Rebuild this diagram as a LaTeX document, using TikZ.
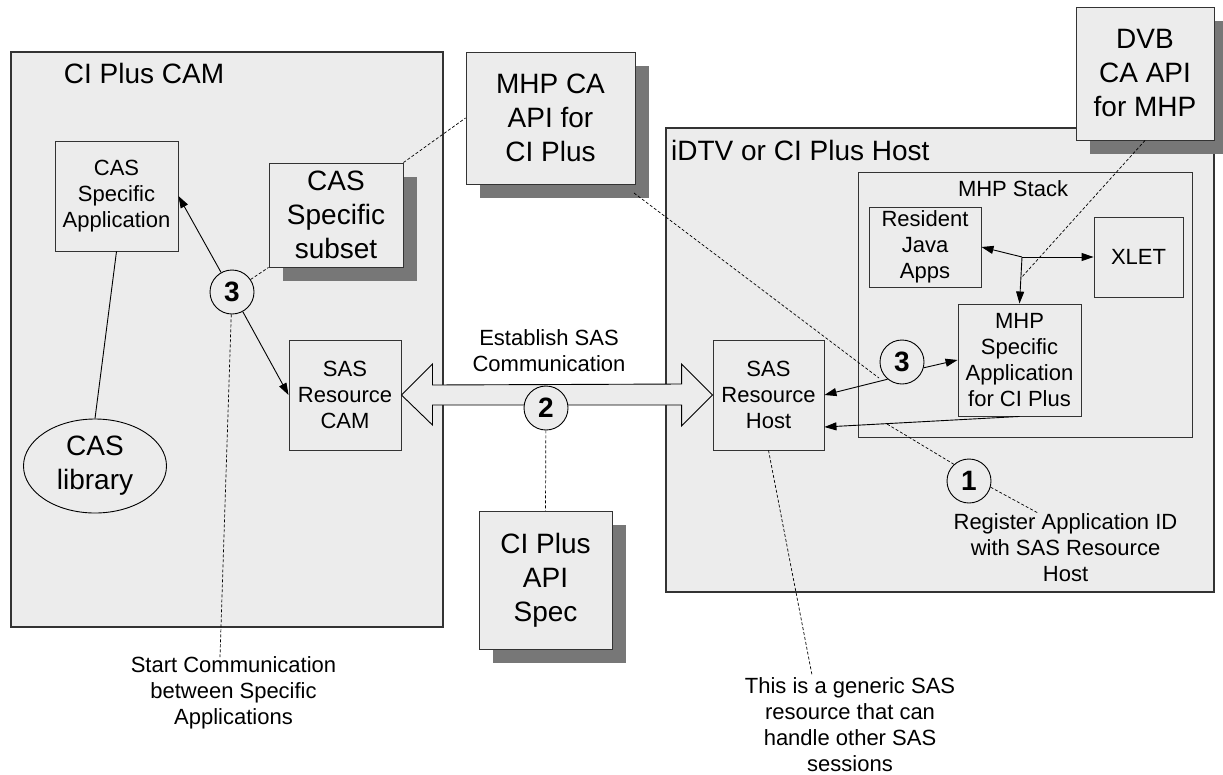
\documentclass[tikz,border=0pt]{standalone}
\usepackage{fontspec}
\setmainfont{Liberation Sans}
\usetikzlibrary{arrows.meta,shapes.geometric,shadows,calc}
\definecolor{boxfill}{HTML}{ECECEC}
\definecolor{shadowc}{HTML}{777777}
\definecolor{edgec}{HTML}{333333}
\begin{document}
\begin{tikzpicture}[x=1pt,y=-1pt,
  container/.style={draw=edgec, line width=1.1pt, fill=boxfill, rectangle, inner sep=0pt},
  block/.style={draw=edgec, line width=0.9pt, fill=boxfill, rectangle, inner sep=0pt, align=center, font=\fontsize{22pt}{26pt}\selectfont},
  bigblock/.style={draw=edgec, line width=0.9pt, fill=boxfill, rectangle, inner sep=0pt, align=center, font=\fontsize{28pt}{34pt}\selectfont, drop shadow={shadow xshift=14pt, shadow yshift=-14pt, fill=shadowc, opacity=1, draw=none}},
  stepcircle/.style={circle, draw=black, line width=0.9pt, fill=boxfill, minimum size=44pt, inner sep=0pt, font=\fontsize{28pt}{28pt}\selectfont\bfseries},
  annot/.style={inner sep=0pt, align=center, font=\fontsize{22pt}{26pt}\selectfont},
  boxtitle/.style={inner sep=0pt, font=\fontsize{28pt}{34pt}\selectfont},
  arr/.style={-{Triangle[length=12pt,width=8pt]}, line width=0.9pt},
  plainlink/.style={line width=0.9pt},
  dashlink/.style={line width=0.7pt, dash pattern=on 3pt off 2pt},
]
\useasboundingbox (0,0) rectangle (1223,774);

% containers
\node[container, minimum width=432pt, minimum height=575pt] (cam) at (227,339.5) {};
\node[boxtitle] (camt) at (144,73) {CI Plus CAM};
\node[container, minimum width=548pt, minimum height=464pt] (host) at (940,360) {};
\node[boxtitle, anchor=west] (hostt) at (671,150) {iDTV or CI Plus Host};
\node[container, line width=0.9pt, minimum width=334pt, minimum height=265pt] (stack) at (1025,304.5) {};
\node[annot] (stackt) at (1013,189) {MHP Stack};

% free coordinates
\coordinate (startend) at (220,657);
\coordinate (mhpcaout) at (634,193);
\coordinate (c3rin) at (879,378);
\coordinate (regarrow) at (887,424);
\coordinate (regtop) at (1038,513);
\coordinate (j) at (1022,257);
\coordinate (dvbend) at (1021,278);
\coordinate (genend) at (812,675);

% CAM side
\node[block, minimum width=123pt, minimum height=110pt] (casapp) at (116.5,196) {CAS\\Specific\\Application};
\node[bigblock, minimum width=134pt, minimum height=104pt] (cassub) at (336,215) {CAS\\Specific\\subset};
\node[block, minimum width=112pt, minimum height=110pt] (samcam) at (345,395) {SAS\\Resource\\CAM};
\node[ellipse, draw=black, line width=0.9pt, fill=boxfill, minimum width=143pt, minimum height=94pt, inner sep=0pt, align=center, font=\fontsize{28pt}{34pt}\selectfont] (lib) at (95,466) {CAS\\library};

% outside boxes
\node[bigblock, minimum width=169pt, minimum height=132pt] (mhpca) at (550.5,118) {MHP CA\\API for\\CI Plus};
\node[bigblock, minimum width=133pt, minimum height=138pt] (spec) at (545.5,580) {CI Plus\\API\\Spec};
\node[bigblock, minimum width=138pt, minimum height=133pt] (dvb) at (1145,73.5) {DVB\\CA API\\for MHP};

% host side
\node[block, minimum width=111pt, minimum height=110pt] (sashost) at (768.5,395) {SAS\\Resource\\Host};
\node[block, minimum width=112pt, minimum height=80pt] (res) at (925,247) {Resident\\Java\\Apps};
\node[block, minimum width=89pt, minimum height=80pt] (xlet) at (1138.5,257) {XLET};
\node[block, minimum width=123pt, minimum height=112pt] (mhpapp) at (1019.5,360) {MHP\\Specific\\Application\\for CI Plus};

% double arrow
\draw[line width=0.9pt, fill=boxfill] (samcam.east) -- ++(31,-31) -- ++(0,21) -- ($(sashost.west)+(-31,-11)$) -- ++(0,-20) -- (sashost.west) -- ++(-31,31) -- ++(0,-21) -- ($(samcam.east)+(31,10)$) -- ++(0,20) -- cycle;

% circles
\node[stepcircle] (c3l) at (232,292) {3};
\node[stepcircle] (c2) at (546,408) {2};
\node[stepcircle] (c3r) at (902,362) {3};
\node[stepcircle] (c1) at (969,481) {1};

% annotations
\node[annot] (estab) at (549,351) {Establish SAS\\Communication};
\node[annot] (starttxt) at (233.5,693) {Start Communication\\between Specific\\Applications};
\node[annot] (regtxt) at (1065.5,548) {Register Application ID\\with SAS Resource\\Host};
\node[annot] (gentxt) at (850,724.5) {This is a generic SAS\\resource that can\\handle other SAS\\sessions};

% solid connectors
\draw[arr] (c3l) -- (casapp.east);
\draw[arr] (c3l) -- (samcam.west);
\draw[plainlink] (casapp.south) -- (lib.north);
\draw[arr] (c3r.-15) -- (mhpapp.west);
\draw[arr] (c3r.230) -- (sashost.east);
\draw[arr] (mhpapp.south) -- ($(sashost.east)+(0,32)$);
\draw[arr] (j) -- (res.east);
\draw[arr] (j) -- (xlet.west);
\draw[arr] (j) -- (mhpapp.north);

% dashed notes
\draw[dashlink] (c3l) -- (cassub.south west);
\draw[dashlink] (cassub.north east) -- (mhpca.west);
\draw[dashlink] (c3l) -- (startend);
\draw[dashlink] (c2) -- (spec.north);
\draw[dashlink] (mhpcaout) -- (c3rin);
\draw[dashlink] (c1.132) -- (regarrow);
\draw[dashlink] (c1.-16) -- (regtop);
\draw[dashlink] (dvb.south) -- (dvbend);
\draw[dashlink] (sashost.south) -- (genend);
\end{tikzpicture}
\end{document}
